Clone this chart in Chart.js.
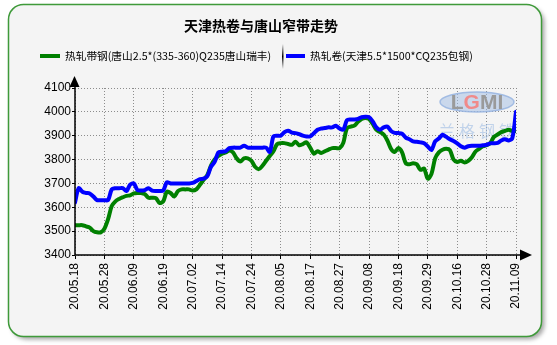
<!DOCTYPE html>
<html>
<head>
<meta charset="utf-8">
<script src="https://cdn.jsdelivr.net/npm/chart.js@4.4.1/dist/chart.umd.min.js"></script>
<style>
  html, body { margin: 0; padding: 0; background: #fff; }
  #wrap { position: relative; width: 557px; height: 345px; }
</style>
</head>
<body>
<div id="wrap"><canvas id="trend" width="557" height="345"></canvas></div>
<script>
const TITLE = '天津热卷与唐山窄带走势';
const STRIP_NAME = '热轧带钢(唐山2.5*(335-360)Q235唐山瑞丰)';
const COIL_NAME = '热轧卷(天津5.5*1500*CQ235包钢)';

// one label every 8 trading days
const tickLabels = [
  '20.05.18', '20.05.28', '20.06.09', '20.06.19', '20.07.02', '20.07.14',
  '20.07.24', '20.08.05', '20.08.17', '20.08.27', '20.09.08', '20.09.18',
  '20.09.29', '20.10.16', '20.10.28', '20.11.09'
];
const LABEL_STEP = 8;

// 唐山窄带 daily price
const stripPrices = [
  3525, 3525, 3525, 3520, 3515, 3500, 3495, 3495, 3510, 3550,
  3605, 3625, 3635, 3642, 3648, 3650, 3658, 3660, 3660, 3655,
  3640, 3640, 3638, 3618, 3625, 3665, 3660, 3645, 3668, 3675,
  3675, 3675, 3670, 3675, 3694, 3715, 3735, 3775, 3800, 3815,
  3825, 3830, 3838, 3830, 3805, 3792, 3805, 3805, 3795, 3770,
  3760, 3774, 3795, 3815, 3835, 3865, 3869, 3869, 3865, 3862,
  3875, 3860, 3865, 3872, 3850, 3825, 3835, 3828, 3835, 3842,
  3848, 3848, 3848, 3870, 3932, 3938, 3942, 3958, 3970, 3974,
  3970, 3950, 3925, 3915, 3905, 3880, 3845, 3832, 3848, 3830,
  3785, 3780, 3785, 3780, 3757, 3762, 3720, 3740, 3805, 3830,
  3841, 3845, 3840, 3800, 3790, 3795, 3788, 3795, 3810, 3834,
  3845, 3856, 3860, 3869, 3895, 3905, 3915, 3920, 3925, 3920,
  3920
];

// 天津热卷 daily price
const coilPrices = [
  3620, 3680, 3665, 3660, 3658, 3645, 3630, 3630, 3630, 3630,
  3675, 3680, 3680, 3680, 3668, 3695, 3700, 3672, 3670, 3672,
  3680, 3670, 3668, 3668, 3670, 3705, 3700, 3700, 3700, 3700,
  3700, 3700, 3702, 3710, 3718, 3720, 3730, 3770, 3790, 3830,
  3833, 3835, 3848, 3850, 3850, 3850, 3858, 3850, 3850, 3850,
  3850, 3850, 3850, 3832, 3897, 3900, 3900, 3915, 3921, 3913,
  3911, 3907, 3900, 3897, 3897, 3910, 3925, 3930, 3932, 3935,
  3935, 3942, 3930, 3925, 3965, 3968, 3968, 3970, 3978, 3980,
  3978, 3960, 3935, 3925, 3935, 3938, 3920, 3912, 3911, 3908,
  3892, 3885, 3876, 3875, 3872, 3868, 3855, 3840, 3876, 3888,
  3904, 3895, 3885, 3878, 3868, 3856, 3850, 3856, 3858, 3858,
  3858, 3860, 3862, 3868, 3868, 3870, 3880, 3885, 3880, 3890,
  4000
];

const yTicks = [3400, 3500, 3600, 3700, 3800, 3900, 4000, 4100];

const GREEN = '#008000';
const BLUE = '#0000ff';
const FONT_NUM = '"Liberation Sans", Arial, sans-serif';
const FONT_CJK = '"Noto Sans CJK SC", "Liberation Sans", sans-serif';

const toPoints = arr => arr.map((v, i) => ({ x: i, y: v }));

// rounded green frame with a soft shadow
const framePlugin = {
  id: 'frame',
  beforeDraw (chart) {
    const ctx = chart.ctx;
    ctx.save();
    ctx.fillStyle = '#fff';
    ctx.fillRect(0, 0, chart.width, chart.height);
    ctx.shadowColor = 'rgba(0,0,0,0.35)';
    ctx.shadowBlur = 4;
    ctx.shadowOffsetX = 3;
    ctx.shadowOffsetY = 3;
    ctx.beginPath();
    ctx.roundRect(8.5, 4.5, 533, 332, 15);
    ctx.fillStyle = '#f4f4f4';
    ctx.fill();
    ctx.shadowColor = 'transparent';
    ctx.lineWidth = 1.5;
    ctx.strokeStyle = '#3f9a3a';
    ctx.stroke();
    ctx.restore();
  }
};

// LGMI mark behind the lines
const markPlugin = {
  id: 'mark',
  beforeDatasetsDraw (chart) {
    const ctx = chart.ctx;
    const cx = chart.chartArea.right - 39;
    const cy = chart.chartArea.top + 14;
    ctx.save();
    ctx.beginPath();
    ctx.ellipse(cx, cy, 37, 10, 0, 0, Math.PI * 2);
    ctx.fillStyle = 'rgba(160,188,228,0.5)';
    ctx.fill();
    ctx.strokeStyle = 'rgba(150,180,225,0.85)';
    ctx.lineWidth = 1.5;
    ctx.stroke();
    ctx.font = 'bold 21px ' + FONT_NUM;
    ctx.textBaseline = 'middle';
    ctx.textAlign = 'left';
    const parts = [['L', '#9a9a9a'], ['G', '#f08a8a'], ['M', '#9a9a9a'], ['I', '#9a9a9a']];
    const total = parts.reduce((s, p) => s + ctx.measureText(p[0]).width, 0);
    let x = cx - total / 2;
    for (const [ch, col] of parts) {
      ctx.fillStyle = col;
      ctx.fillText(ch, x, cy + 1);
      x += ctx.measureText(ch).width;
    }
    ctx.font = '16px ' + FONT_CJK;
    ctx.fillStyle = 'rgba(150,182,225,0.55)';
    ctx.textAlign = 'center';
    ctx.letterSpacing = '4px';
    ctx.fillText('兰格钢铁', cx + 2, cy + 29);
    ctx.restore();
  }
};

// title, legend and arrowed axes
const decorPlugin = {
  id: 'decor',
  afterDraw (chart) {
    const ctx = chart.ctx;
    const area = chart.chartArea;
    ctx.save();

    ctx.fillStyle = '#000';
    ctx.font = 'bold 14px ' + FONT_CJK;
    ctx.textAlign = 'center';
    ctx.textBaseline = 'middle';
    ctx.fillText(TITLE, 261, 26);

    ctx.font = '10.7px ' + FONT_CJK;
    ctx.textAlign = 'left';
    const ly = 56;
    ctx.lineWidth = 4;
    ctx.strokeStyle = GREEN;
    ctx.beginPath(); ctx.moveTo(40, ly); ctx.lineTo(60, ly); ctx.stroke();
    ctx.fillStyle = '#000';
    ctx.fillText(STRIP_NAME, 65, ly);

    const sep = ctx.createLinearGradient(0, 44, 0, 69);
    sep.addColorStop(0, 'rgba(0,0,0,0)');
    sep.addColorStop(0.5, 'rgba(0,0,0,1)');
    sep.addColorStop(1, 'rgba(0,0,0,0)');
    ctx.fillStyle = sep;
    ctx.fillRect(282, 44, 1.5, 25);

    ctx.strokeStyle = BLUE;
    ctx.beginPath(); ctx.moveTo(286, ly); ctx.lineTo(305, ly); ctx.stroke();
    ctx.fillStyle = '#000';
    ctx.fillText(COIL_NAME, 310, ly);

    // axes with arrowheads
    ctx.strokeStyle = '#000';
    ctx.fillStyle = '#000';
    ctx.lineWidth = 1.5;
    ctx.beginPath();
    ctx.moveTo(area.left, area.top - 4);
    ctx.lineTo(area.left, area.bottom);
    ctx.lineTo(area.right + 6, area.bottom);
    ctx.stroke();
    ctx.beginPath();
    ctx.moveTo(area.left - 5.5, area.top - 1);
    ctx.lineTo(area.left + 4.5, area.top - 1);
    ctx.lineTo(area.left - 0.5, area.top - 12);
    ctx.closePath();
    ctx.fill();
    ctx.beginPath();
    ctx.moveTo(area.right + 4, area.bottom - 5.5);
    ctx.lineTo(area.right + 4, area.bottom + 5.5);
    ctx.lineTo(area.right + 16, area.bottom);
    ctx.closePath();
    ctx.fill();
    ctx.restore();
  }
};

new Chart(document.getElementById('trend'), {
  type: 'line',
  data: {
    datasets: [
      {
        label: STRIP_NAME,
        data: toPoints(stripPrices),
        borderColor: GREEN,
        borderWidth: 4,
        order: 1
      },
      {
        label: COIL_NAME,
        data: toPoints(coilPrices),
        borderColor: BLUE,
        borderWidth: 4,
        order: 0
      }
    ]
  },
  plugins: [framePlugin, markPlugin, decorPlugin],
  options: {
    responsive: false,
    animation: false,
    devicePixelRatio: 1,
    layout: { padding: { top: 88, left: 0, right: 41, bottom: 0 } },
    elements: {
      point: { radius: 0 },
      line: { tension: 0.3, borderCapStyle: 'round', borderJoinStyle: 'round' }
    },
    plugins: {
      legend: { display: false },
      title: { display: false },
      tooltip: { enabled: false }
    },
    scales: {
      x: {
        type: 'linear',
        min: 0,
        max: (tickLabels.length - 1) * LABEL_STEP,
        afterFit: s => { s.height = 90; },
        border: { display: false, dash: [1, 2] },
        grid: {
          color: '#8c8c8c',
          lineWidth: 1,
          tickLength: 4,
          tickColor: '#000'
        },
        ticks: {
          stepSize: LABEL_STEP,
          autoSkip: false,
          minRotation: 90,
          maxRotation: 90,
          padding: 4,
          color: '#000',
          font: { family: FONT_NUM, size: 12 },
          callback: v => tickLabels[Math.round(v / LABEL_STEP)]
        }
      },
      y: {
        min: yTicks[0],
        max: yTicks[yTicks.length - 1],
        afterFit: s => { s.width = 75; },
        afterBuildTicks: s => { s.ticks = yTicks.map(v => ({ value: v })); },
        border: { display: false, dash: [1, 2] },
        grid: {
          color: '#8c8c8c',
          lineWidth: 1,
          tickLength: 3,
          tickColor: '#000'
        },
        ticks: {
          padding: 1,
          color: '#000',
          font: { family: FONT_NUM, size: 12 },
          callback: v => String(v)
        }
      }
    }
  }
});
</script>
</body>
</html>
